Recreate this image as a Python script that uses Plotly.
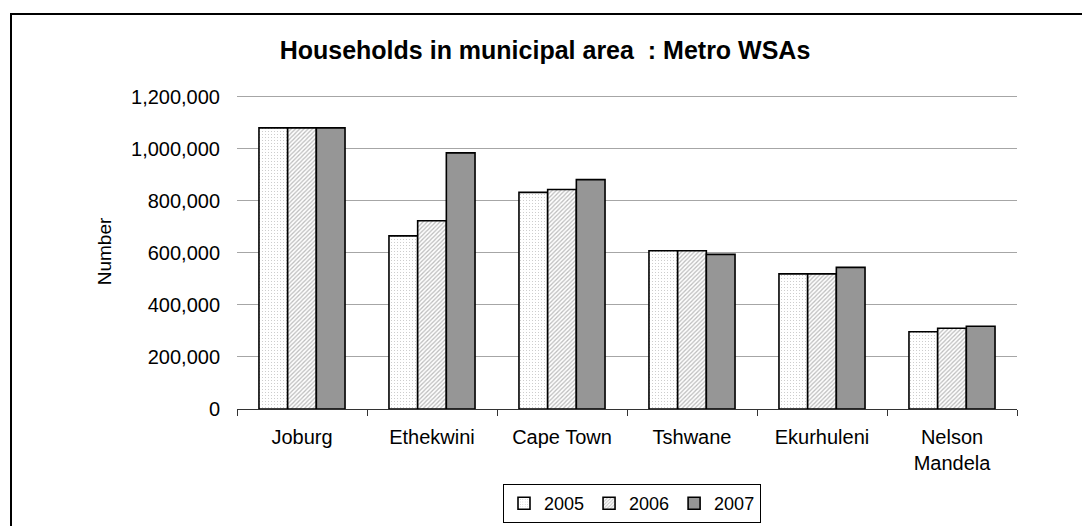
import plotly.graph_objects as go

categories = ["Joburg", "Ethekwini", "Cape Town", "Tshwane", "Ekurhuleni", "Nelson<br>Mandela"]
years = ["2005", "2006", "2007"]
v2005 = [1080000, 665000, 832000, 608000, 519000, 297000]
v2006 = [1080000, 723000, 843000, 608000, 519000, 310000]
v2007 = [1080000, 984000, 881000, 594000, 544000, 318000]
y_ticks = [0, 200000, 400000, 600000, 800000, 1000000, 1200000]

FONT = "Liberation Sans, Arial, sans-serif"

styles = [
    dict(color="white", pattern=dict(shape=".", fgcolor="#8a8a8a", bgcolor="white", size=3, solidity=0.12)),
    dict(color="white", pattern=dict(shape="/", fgcolor="#7a7a7a", bgcolor="white", size=3, solidity=0.42)),
    dict(color="#969696"),
]

fig = go.Figure()
for name, vals, st in zip(years, [v2005, v2006, v2007], styles):
    marker = dict(color=st["color"], line=dict(color="black", width=1.6))
    if "pattern" in st:
        marker["pattern"] = st["pattern"]
    fig.add_trace(go.Bar(x=categories, y=vals, name=name, marker=marker))

YMAX = 1210000
W, H = 1082, 526
L, R, B = 237, 65, 117
y0px = H - B  # pixel of value 0
px_per = (408.5 - 95.7) / 1200000
T = round(y0px - YMAX * px_per)
pw = W - L - R
ph = H - T - B

def px_x(x):
    return (x - L) / pw

def px_y(y):
    return (H - B - y) / ph

fig.update_layout(
    width=W, height=H,
    margin=dict(l=L, r=R, t=T, b=B, pad=0),
    paper_bgcolor="white", plot_bgcolor="white",
    font=dict(family=FONT, size=20, color="black"),
    barmode="group", bargap=0.338, bargroupgap=0,
    title=dict(text="<b>Households in municipal area  : Metro WSAs</b>",
               x=545 / W, xanchor="center", xref="container",
               y=1 - 50 / H, yanchor="middle", yref="container",
               font=dict(family=FONT, size=25, color="black")),
    showlegend=True,
    legend=dict(orientation="h", xref="container", yref="container",
                x=503 / W, xanchor="left", y=1 - 523 / H, yanchor="bottom",
                bordercolor="black", borderwidth=1, bgcolor="white",
                font=dict(family=FONT, size=18), itemwidth=30,
                traceorder="normal", tracegroupgap=0),
    xaxis=dict(showline=True, linecolor="#333333", linewidth=1, automargin=False,
               ticks="outside", ticklen=6, tickcolor="#333333", tickson="boundaries",
               ticklabelstandoff=10,
               showgrid=False, tickfont=dict(family=FONT, size=20)),
    yaxis=dict(range=[0, YMAX], tickvals=y_ticks, tickformat=",", automargin=False,
               showgrid=True, gridcolor="#a6a6a6", gridwidth=1, zeroline=False,
               showline=False, ticks="", ticklabelstandoff=16,
               tickfont=dict(family=FONT, size=20),
               title=dict(text="Number", font=dict(family=FONT, size=19), standoff=14)),
    shapes=[dict(type="rect", xref="paper", yref="paper",
                 x0=px_x(11), x1=px_x(1095), y0=px_y(14), y1=px_y(545),
                 line=dict(color="black", width=2), fillcolor="rgba(0,0,0,0)", layer="above")],
)

fig.write_html("out.html")
